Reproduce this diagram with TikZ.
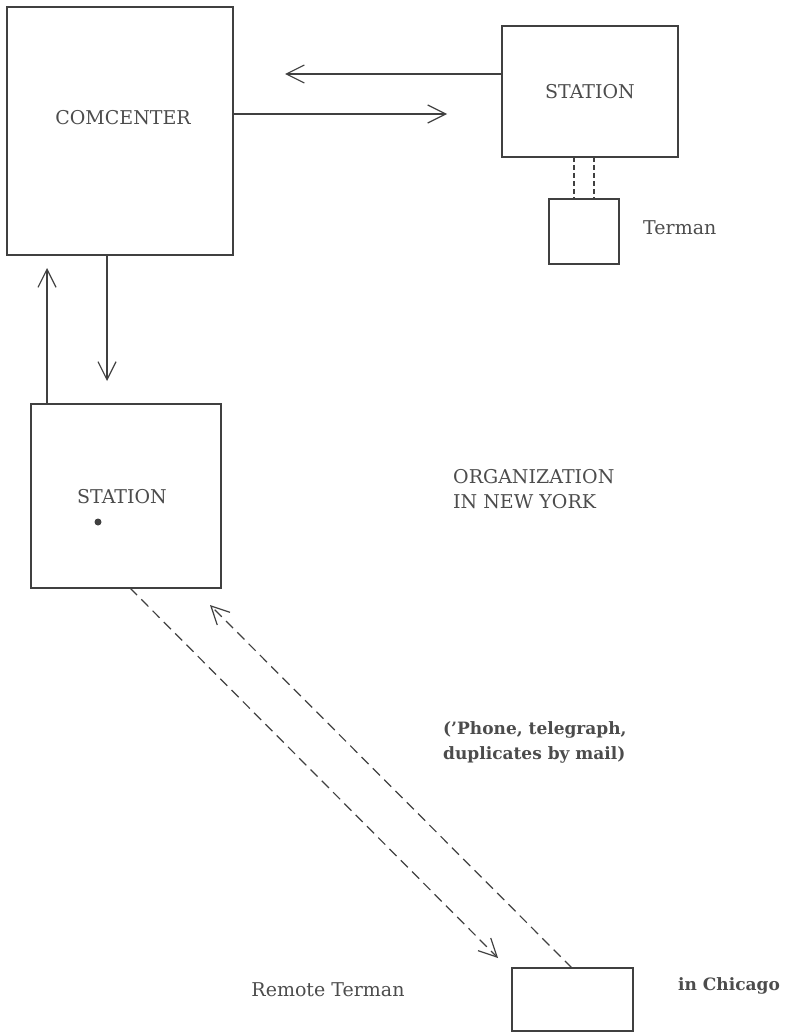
\documentclass[tikz,border=0pt]{standalone}
\usepackage{fontspec}
\setmainfont{DejaVu Serif}
\usetikzlibrary{arrows.meta}
\definecolor{ink}{gray}{0.25}
\definecolor{txt}{gray}{0.3}
\begin{document}
\begin{tikzpicture}[x=1pt,y=-1pt,
  box/.style={draw=ink,line width=1.3pt,rectangle,inner sep=0pt},
  lbl/.style={text=txt,font=\fontsize{19}{25}\selectfont,inner sep=0pt},
  blbl/.style={text=txt,font=\fontsize{17}{25}\selectfont\bfseries,inner sep=0pt,align=left},
  conn/.style={draw=ink,line width=1.2pt,-{Straight Barb[length=18pt,width=18pt,line width=1.2pt]}},
  dconn/.style={conn,dash pattern=on 10pt off 6pt},
  dline/.style={draw=ink,line width=1.2pt,dash pattern=on 5pt off 3pt}]
\useasboundingbox (0,0) rectangle (786,1035);
% boxes
\node[box,minimum width=226pt,minimum height=248pt] (com) at (120,131) {};
\node[box,minimum width=176pt,minimum height=131pt,lbl] (st1) at (590,91.5) {STATION};
\node[box,minimum width=70pt,minimum height=65pt] (term) at (584,231.5) {};
\node[box,minimum width=190pt,minimum height=184pt] (st2) at (126,496) {};
\node[box,minimum width=121pt,minimum height=63pt] (rem) at (572.5,999.5) {};
% texts
\node[lbl] (comtext) at (123,118) {COMCENTER};
\node[lbl] (st2text) at (122,497) {STATION};
\fill[ink] (98,522) circle (3.5pt);
\node[lbl,anchor=west] (termtext) at (643,228) {Terman};
\node[lbl,anchor=west,align=left] (org) at (453,489) {ORGANIZATION\\IN NEW YORK};
\node[blbl,anchor=west] (phone) at (443,742) {('Phone, telegraph,\\duplicates by mail)};
\node[lbl] (remtext) at (328,990) {Remote Terman};
\node[blbl,anchor=west] (chi) at (678,986) {in Chicago};
% coordinates
\coordinate (a1) at (285,74);
\coordinate (a2) at (447,114);
\coordinate (a3) at (47,268);
\coordinate (a4) at (107,381);
\coordinate (a5) at (498,958);
\coordinate (a6) at (210,605);
% connectors
\draw[conn] (st1.west |- a1) -- (a1);
\draw[conn] (com.east |- a2) -- (a2);
\draw[conn] (st2.north -| a3) -- (a3);
\draw[conn] (com.south -| a4) -- (a4);
\draw[dconn] (130,588) -- (a5);
\draw[dconn] (572,968) -- (a6);
\draw[dline] (574,157) -- (574,199);
\draw[dline] (594,157) -- (594,199);
\end{tikzpicture}
\end{document}
